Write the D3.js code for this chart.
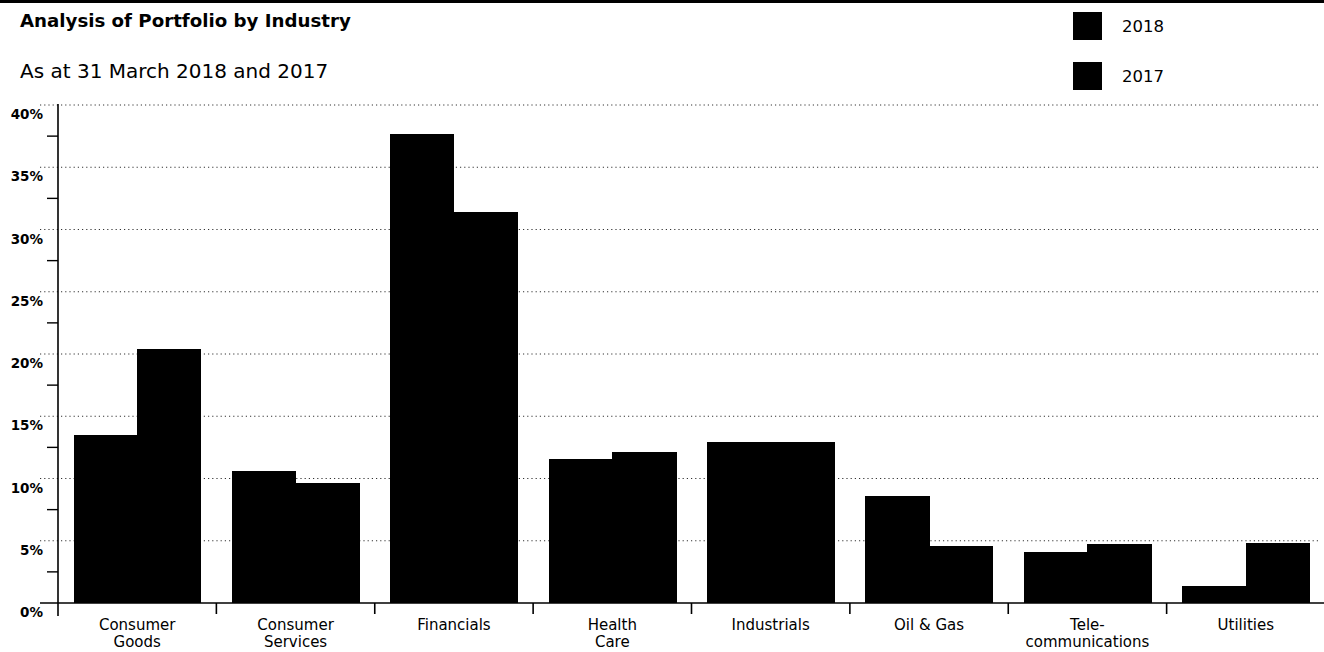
<!DOCTYPE html>
<html>
<head>
<meta charset="utf-8">
<script src="https://cdn.jsdelivr.net/npm/d3@7"></script>
<style>
  body { margin: 0; background: #fff; }
  svg { display: block; font-family: "DejaVu Sans", Verdana, sans-serif; }
  .grid line { stroke: #333; stroke-dasharray: 1.2 3; }
  .bars rect { shape-rendering: crispEdges; }
</style>
</head>
<body>
<div id="chart"></div>
<script>
// values (percent of portfolio)
const industries = ["Consumer Goods", "Consumer Services", "Financials", "Health Care",
  "Industrials", "Oil & Gas", "Tele- communications", "Utilities"];
const labelLines = [["Consumer", "Goods"], ["Consumer", "Services"], ["Financials"], ["Health", "Care"],
  ["Industrials"], ["Oil & Gas"], ["Tele-", "communications"], ["Utilities"]];
const years = ["2018", "2017"];
const values2018 = [13.5, 10.6, 37.7, 11.6, 12.9, 8.6, 4.1, 1.4];
const values2017 = [20.4, 9.6, 31.4, 12.1, 12.9, 4.6, 4.7, 4.8];
const yTicks = [0, 5, 10, 15, 20, 25, 30, 35, 40];

const width = 1324, height = 652;
const svg = d3.select("#chart").append("svg").attr("width", width).attr("height", height);

// top rule
svg.append("rect").attr("x", 0).attr("y", 0).attr("width", width).attr("height", 3).attr("fill", "#000");

svg.append("text").attr("x", 20).attr("y", 27)
  .attr("font-size", 18.2).attr("font-weight", "bold")
  .text("Analysis of Portfolio by Industry");
svg.append("text").attr("x", 20).attr("y", 78)
  .attr("font-size", 20)
  .text("As at 31 March 2018 and 2017");

const y = d3.scaleLinear().domain([0, 40]).range([603, 105]);
const x0 = d3.scaleBand().domain(industries).range([58, 1325]).padding(0);
const x1 = d3.scaleBand().domain(years).range([15.5, x0.bandwidth() - 15.5]).padding(0);

// dotted grid
svg.append("g").attr("class", "grid")
  .selectAll("line").data(yTicks.filter(d => d > 0)).join("line")
  .attr("x1", 40).attr("x2", 1318)
  .attr("y1", d => y(d)).attr("y2", d => y(d));

// bars
const rows = industries.map((c, i) => ({ c, v: { "2018": values2018[i], "2017": values2017[i] } }));
svg.append("g").attr("class", "bars").selectAll("g").data(rows).join("g")
  .attr("transform", d => `translate(${x0(d.c)},0)`)
  .selectAll("rect").data(d => years.map(k => ({ k, v: d.v[k] }))).join("rect")
  .attr("x", d => x1(d.k))
  .attr("width", x1.bandwidth() + 0.5)
  .attr("y", d => y(d.v))
  .attr("height", d => y(0) - y(d.v))
  .attr("fill", "#000");

// y axis line and minor ticks
svg.append("line").attr("x1", 58).attr("x2", 58).attr("y1", y(40) - 1).attr("y2", 616)
  .attr("stroke", "#000").attr("stroke-width", 1.6);
svg.append("g").selectAll("line").data(d3.range(2.5, 40, 5)).join("line")
  .attr("x1", 47).attr("x2", 58).attr("y1", d => y(d)).attr("y2", d => y(d))
  .attr("stroke", "#000").attr("stroke-width", 1.4);

// y tick labels
const yAxis = svg.append("g").attr("transform", "translate(43,0)")
  .call(d3.axisLeft(y).tickValues(yTicks).tickSize(0).tickPadding(0).tickFormat(d => d + "%"));
yAxis.select(".domain").remove();
yAxis.attr("font-size", null).attr("font-family", null);
yAxis.selectAll("text").attr("font-size", 13.5).attr("font-weight", "bold")
  .attr("fill", "#000").attr("dy", "1.0em");

// baseline and category ticks
svg.append("line").attr("x1", 40).attr("x2", width).attr("y1", y(0)).attr("y2", y(0))
  .attr("stroke", "#000").attr("stroke-width", 1.6);
svg.append("g").selectAll("line").data(industries.slice(1)).join("line")
  .attr("x1", d => x0(d)).attr("x2", d => x0(d))
  .attr("y1", y(0)).attr("y2", y(0) + 11)
  .attr("stroke", "#000").attr("stroke-width", 1.6);

// category labels
const cat = svg.append("g").selectAll("text").data(industries).join("text")
  .attr("x", d => x0(d) + x0.bandwidth() / 2)
  .attr("y", 630)
  .attr("text-anchor", "middle")
  .attr("font-size", 15);
cat.selectAll("tspan").data((d, i) => labelLines[i]).join("tspan")
  .attr("x", function () { return this.parentNode.getAttribute("x"); })
  .attr("dy", (d, i) => i === 0 ? 0 : 17)
  .text(d => d);

// legend
const legend = svg.append("g").selectAll("g").data(years).join("g")
  .attr("transform", (d, i) => `translate(1073,${12 + i * 50})`);
legend.append("rect").attr("width", 29).attr("height", 28).attr("fill", "#000");
legend.append("text").attr("x", 49).attr("y", 14).attr("dy", "0.35em")
  .attr("font-size", 16.5).text(d => d);
</script>
</body>
</html>
